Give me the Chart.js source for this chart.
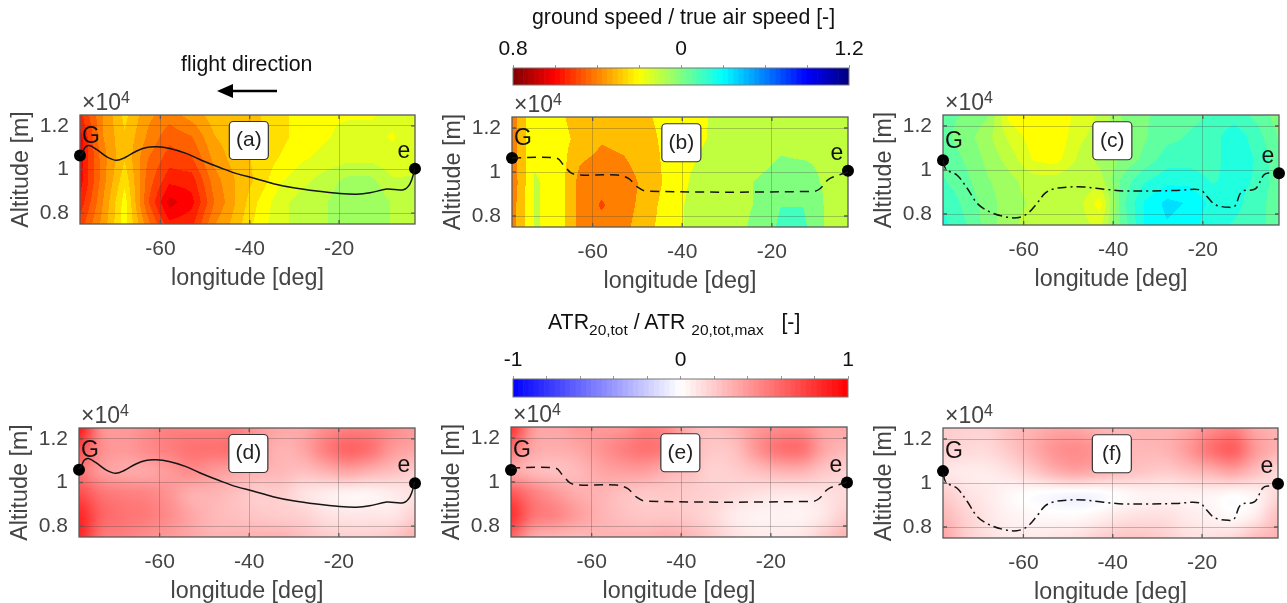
<!DOCTYPE html>
<html>
<head>
<meta charset="utf-8">
<script src="https://cdn.jsdelivr.net/npm/chart.js@4"></script>
<style>
html, body { margin: 0; padding: 0; background: #fff; overflow: hidden; }
#fig { position: relative; width: 1287px; height: 603px; overflow: hidden; font-family: "Liberation Sans", sans-serif; filter: blur(0.5px); }
#fig canvas { position: absolute; }
.txt { position: absolute; white-space: nowrap; color: #111; font-size: 21.3px; line-height: 24px; }
.txt sub { font-size: 15.5px; line-height: 0; vertical-align: -6px; }
</style>
</head>
<body>
<div id="fig">
    <div class="txt" style="left:532px;top:5px">ground speed / true air speed [-]</div>
    <div class="txt" style="left:181px;top:52px">flight direction</div>
    <div class="txt" style="left:548px;top:310px">ATR<sub>20,tot</sub> / ATR <sub>20,tot,max</sub> &nbsp;&nbsp;[-]</div>
    <svg style="position:absolute;left:210px;top:80px" width="75" height="22">
        <line x1="67" y1="11" x2="20" y2="11" stroke="#000" stroke-width="2.5"></line>
        <polygon points="7,11 23,4 23,18" fill="#000"></polygon>
    </svg>
</div>
<script>
// longitud y altitud de la malla de los campos
const gridLon = [-78, -73, -68, -63, -58, -53, -48, -43, -38, -33, -28, -23, -18, -13, -8, -3];
const gridAlt = [12500, 11500, 10500, 9500, 8500, 7500];

const xTickValues = [-60, -40, -20];
const yTickValues = [8000, 10000, 12000];

// ground speed / true air speed
const fieldA = [
    [.865, .905, .935, .91, .90, .912, .925, .927, .93, .94, .95, .955, .955, .955, .96, .965],
    [.85, .905, .93, .905, .885, .893, .918, .927, .93, .94, .95, .955, .96, .96, .955, .965],
    [.85, .90, .93, .895, .875, .88, .91, .925, .935, .945, .955, .96, .965, .965, .96, .965],
    [.85, .90, .94, .89, .86, .862, .90, .92, .935, .955, .965, .975, .985, .985, .97, .97],
    [.86, .905, .95, .885, .838, .852, .893, .92, .945, .965, .975, .98, .992, .992, .98, .97],
    [.875, .91, .95, .90, .86, .865, .905, .925, .95, .965, .975, .98, .992, .992, .98, .97]
];
const fieldB = [
    [.90, .96, .945, .925, .92, .925, .935, .945, .955, .965, .97, .97, .975, .975, .975, .975],
    [.90, .96, .95, .93, .915, .92, .93, .945, .957, .965, .97, .972, .98, .975, .975, .975],
    [.90, .96, .955, .915, .905, .91, .925, .945, .96, .97, .975, .98, .99, .988, .985, .975],
    [.895, .965, .955, .905, .895, .90, .92, .945, .965, .98, .98, .99, 1.0, .995, .985, .975],
    [.90, .965, .955, .905, .885, .90, .925, .95, .968, .975, .98, .99, 1.012, 1.012, .985, .975],
    [.90, .965, .955, .905, .895, .905, .93, .95, .968, .975, .98, .995, 1.018, 1.018, .985, .975]
];
const fieldC = [
    [1.01, 1.005, .995, .95, .945, .945, .96, .97, .995, 1.005, 1.01, 1.015, 1.02, 1.025, 1.015, 1.0],
    [1.01, 1.0, .985, .965, .95, .945, .965, .975, .99, 1.005, 1.015, 1.02, 1.025, 1.04, 1.025, 1.005],
    [1.015, 1.005, .99, .975, .955, .95, .97, .985, .995, 1.01, 1.025, 1.025, 1.025, 1.04, 1.03, 1.01],
    [1.02, 1.01, .995, .985, .975, .975, .98, .975, 1.01, 1.03, 1.04, 1.04, 1.03, 1.035, 1.03, 1.01],
    [1.03, 1.015, 1.0, .985, .98, .975, .975, .95, 1.015, 1.045, 1.06, 1.055, 1.04, 1.035, 1.025, 1.01],
    [1.035, 1.02, 1.0, .985, .975, .975, .975, .965, 1.01, 1.045, 1.055, 1.05, 1.035, 1.03, 1.025, 1.01]
];

// ATR20,tot / ATR20,tot,max
const fieldD = [
    [.9, .45, .4, .45, .5, .5, .5, .5, .4, .35, .35, .45, .5, .5, .45, .4],
    [.7, .45, .4, .45, .5, .55, .55, .55, .4, .3, .35, .5, .6, .55, .4, .35],
    [.55, .4, .35, .35, .4, .45, .4, .35, .3, .28, .25, .3, .35, .3, .25, .2],
    [.7, .55, .5, .48, .42, .32, .3, .25, .2, .2, .12, .08, .05, .05, .08, .12],
    [.85, .62, .55, .52, .45, .35, .28, .25, .22, .2, .18, .12, .1, .1, .1, .18],
    [.85, .55, .5, .45, .4, .35, .3, .3, .3, .3, .25, .2, .18, .18, .22, .3]
];
const fieldE = [
    [.8, .4, .35, .4, .4, .42, .5, .45, .3, .25, .3, .4, .45, .45, .35, .35],
    [.55, .35, .32, .35, .42, .5, .55, .5, .3, .22, .25, .42, .55, .55, .35, .28],
    [.35, .28, .25, .28, .35, .38, .38, .3, .25, .18, .2, .25, .3, .3, .22, .18],
    [.65, .5, .4, .32, .3, .25, .22, .22, .2, .18, .15, .12, .1, .1, .12, .15],
    [.8, .55, .48, .38, .3, .25, .22, .22, .2, .15, .08, .05, .05, .05, .1, .2],
    [.6, .35, .3, .28, .3, .3, .3, .32, .28, .2, .12, .08, .08, .1, .2, .3]
];
const fieldF = [
    [.2, .18, .18, .25, .3, .35, .35, .3, .28, .3, .3, .35, .45, .5, .35, .3],
    [.18, .15, .15, .22, .32, .42, .45, .4, .3, .28, .3, .4, .55, .62, .4, .3],
    [.1, .08, .08, .12, .2, .3, .35, .3, .25, .22, .2, .25, .3, .35, .25, .15],
    [.2, .12, .08, .03, 0, -.02, -.03, -.02, .02, .05, .05, .05, .05, .02, .05, .15],
    [.28, .18, .1, .05, .03, .02, .02, .05, .1, .12, .12, .08, .05, .02, .08, .25],
    [.35, .2, .12, .08, .08, .1, .12, .18, .22, .22, .18, .12, .12, .15, .25, .3]
];

// trayectorias de vuelo
const pathSolidLon = [-78, -77.5, -76.9, -75.9, -74.3, -72, -69.8, -67.9, -65.3, -63.1, -60.8, -57.9, -54.1, -50.4, -46.7, -42.9, -39.2, -34.7, -30.2, -25, -19.8, -16.1, -13.1, -9.3, -5.6, -4.1, -3];
const pathSolidAlt = [10640, 10730, 11010, 11100, 10920, 10580, 10420, 10550, 10850, 11010, 11040, 10960, 10730, 10390, 10090, 9810, 9610, 9350, 9160, 9010, 8900, 8870, 8930, 9100, 9070, 9350, 10040];
const pathDashLon = [-78, -68, -66.5, -64.3, -54.6, -52, -50.1, -47.9, -10.7, -9.2, -7.3, -5, -3];
const pathDashAlt = [10640, 10630, 10320, 9910, 9860, 9710, 9330, 9130, 9120, 9250, 9670, 9860, 10000];
const pathDotLon = [-78, -77.3, -74.9, -72.6, -70.4, -67.8, -64.5, -61.5, -59.2, -57, -55.2, -53.3, -50.3, -46.6, -42.1, -37.7, -31.7, -25.8, -20.6, -19.1, -17.2, -13.9, -12.8, -11.3, -8.3, -6.4, -5.3, -3];
const pathDotAlt = [10440, 10030, 9770, 9170, 8490, 8120, 7890, 7830, 8010, 8490, 8950, 9140, 9220, 9230, 9130, 9050, 9050, 9070, 9100, 8800, 8420, 8300, 8370, 9020, 9140, 9770, 9860, 9850];

const colorbarSpeedLabels = ['0.8', '', '', '', '0', '', '', '', '1.2'];
const colorbarAtrLabels = ['-1', '', '', '', '', '0', '', '', '', '', '1'];

function clamp01(v) { return Math.max(0, Math.min(1, v)); }

// jet invertido: rojo oscuro -> amarillo -> cian -> azul oscuro
function speedColor(r) {
    const u = 1 - (r - 0.8) / 0.4;
    return [
        clamp01(Math.min(4 * u - 1.5, -4 * u + 4.5)) * 255,
        clamp01(Math.min(4 * u - 0.5, -4 * u + 3.5)) * 255,
        clamp01(Math.min(4 * u + 0.5, -4 * u + 2.5)) * 255
    ];
}
function atrColor(v) {
    v = Math.max(-1, Math.min(1, v));
    if (v >= 0) return [255, 255 * (1 - v), 255 * (1 - v)];
    return [255 * (1 + v), 255 * (1 + v), 255];
}

function cubic(a, b, c, d, t) {
    return b + 0.5 * t * (c - a + t * (2 * a - 5 * b + 4 * c - d + t * (3 * (b - c) + d - a)));
}
function sampleLinear(grid, fx, fy) {
    const i = Math.min(Math.floor(fx), gridLon.length - 2), j = Math.min(Math.floor(fy), gridAlt.length - 2);
    const tx = fx - i, ty = fy - j;
    const top = grid[j][i] * (1 - tx) + grid[j][i + 1] * tx;
    const bot = grid[j + 1][i] * (1 - tx) + grid[j + 1][i + 1] * tx;
    return top * (1 - ty) + bot * ty;
}
function sampleCubic(grid, fx, fy) {
    const i = Math.min(Math.floor(fx), gridLon.length - 2), j = Math.min(Math.floor(fy), gridAlt.length - 2);
    const tx = fx - i, ty = fy - j;
    const rows = [];
    for (let m = -1; m <= 2; m++) {
        const row = grid[Math.max(0, Math.min(gridAlt.length - 1, j + m))];
        const at = k => row[Math.max(0, Math.min(gridLon.length - 1, k))];
        rows.push(cubic(at(i - 1), at(i), at(i + 1), at(i + 2), tx));
    }
    return cubic(rows[0], rows[1], rows[2], rows[3], ty);
}
function clampGrid(v, max) { return Math.max(0, Math.min(max, v)); }

// pinta el campo de color leyendo cada pixel con las escalas del chart
const fieldPlugin = {
    id: 'fieldBg',
    beforeDraw(chart, args, opts) {
        const area = chart.chartArea, sx = chart.scales.x, sy = chart.scales.y;
        const w = Math.round(area.width), h = Math.round(area.height);
        const off = document.createElement('canvas');
        off.width = w; off.height = h;
        const octx = off.getContext('2d');
        const img = octx.createImageData(w, h);
        const lonStep = gridLon[1] - gridLon[0], altStep = gridAlt[0] - gridAlt[1];
        let p = 0;
        for (let py = 0; py < h; py++) {
            const alt = sy.getValueForPixel(area.top + py + 0.5);
            const fy = clampGrid((gridAlt[0] - alt) / altStep, gridAlt.length - 1);
            for (let px = 0; px < w; px++) {
                const lon = sx.getValueForPixel(area.left + px + 0.5);
                const fx = clampGrid((lon - gridLon[0]) / lonStep, gridLon.length - 1);
                let c;
                if (opts.bandStep) {
                    // contourf con niveles fijos
                    const r = sampleLinear(opts.grid, fx, fy);
                    c = speedColor(0.85 + Math.round((r - 0.85) / opts.bandStep) * opts.bandStep);
                } else {
                    c = atrColor(sampleCubic(opts.grid, fx, fy));
                }
                img.data[p++] = c[0]; img.data[p++] = c[1]; img.data[p++] = c[2]; img.data[p++] = 255;
            }
        }
        octx.putImageData(img, 0, 0);
        chart.ctx.drawImage(off, area.left, area.top);
    },
    beforeDatasetsDraw(chart) {
        // marco y ticks hacia dentro
        const ctx = chart.ctx, a = chart.chartArea;
        ctx.save();
        ctx.strokeStyle = '#5a5a5a';
        ctx.lineWidth = 1.3;
        ctx.strokeRect(a.left, a.top, a.width, a.height);
        ctx.beginPath();
        xTickValues.forEach(v => {
            const x = chart.scales.x.getPixelForValue(v);
            ctx.moveTo(x, a.top); ctx.lineTo(x, a.top + 4);
            ctx.moveTo(x, a.bottom); ctx.lineTo(x, a.bottom - 4);
        });
        yTickValues.forEach(v => {
            const y = chart.scales.y.getPixelForValue(v);
            ctx.moveTo(a.left, y); ctx.lineTo(a.left + 4, y);
            ctx.moveTo(a.right, y); ctx.lineTo(a.right - 4, y);
        });
        ctx.stroke();
        ctx.restore();
    },
    afterDraw(chart, args, opts) {
        const ctx = chart.ctx, a = chart.chartArea;
        ctx.save();
        ctx.fillStyle = '#444';
        ctx.textAlign = 'left';
        ctx.textBaseline = 'alphabetic';
        ctx.font = '23px "Liberation Sans"';
        ctx.fillText('×10', a.left + 2, a.top - 5);
        ctx.font = '16px "Liberation Sans"';
        ctx.fillText('4', a.left + 41, a.top - 12);

        // etiqueta del panel
        const bx = chart.scales.x.getPixelForValue(-40.2), by = chart.scales.y.getPixelForValue(11330);
        ctx.beginPath();
        ctx.roundRect(bx - 19.5, by - 19, 39, 38, 4);
        ctx.fillStyle = '#fff';
        ctx.fill();
        ctx.strokeStyle = '#333';
        ctx.lineWidth = 1.2;
        ctx.stroke();
        ctx.fillStyle = '#222';
        ctx.textAlign = 'center';
        ctx.textBaseline = 'middle';
        ctx.font = '21px "Liberation Sans"';
        ctx.fillText(opts.label, bx, by);

        // G y e junto a los puntos extremos
        const pts = chart.getDatasetMeta(1).data;
        ctx.fillStyle = '#111';
        ctx.font = '23px "Liberation Sans"';
        ctx.fillText('G', pts[0].x + 11, pts[0].y - 19);
        ctx.fillText('e', pts[1].x - 11, pts[1].y - 17);
        ctx.restore();
    }
};

const tickFont = { family: '"Liberation Sans"', size: 21 };
const titleFont = { family: '"Liberation Sans"', size: 23.3 };
const gridLine = { color: 'rgba(70,70,70,0.3)', lineWidth: 1, drawTicks: false };

function addCanvas(left, top, w, h) {
    const c = document.createElement('canvas');
    c.width = w; c.height = h;
    c.style.left = left + 'px';
    c.style.top = top + 'px';
    document.getElementById('fig').appendChild(c);
    return c;
}

function makePanel(box, grid, bandStep, label, lon, alt, dash, ends) {
    const mLeft = 72, mTop = 32, mRight = 16, mBottom = 71;
    const canvas = addCanvas(box[0] - mLeft, box[1] - mTop, box[2] + mLeft + mRight, box[3] + mTop + mBottom);
    new Chart(canvas, {
        type: 'scatter',
        data: {
            datasets: [
                {
                    data: lon.map((x, i) => ({ x: x, y: alt[i] })),
                    showLine: true, borderColor: '#151515', borderWidth: 1.5,
                    borderDash: dash, pointRadius: 0, tension: 0.35
                },
                {
                    data: ends, showLine: false, clip: false,
                    pointRadius: 6, backgroundColor: '#000', borderWidth: 0
                }
            ]
        },
        options: {
            responsive: false,
            animation: false,
            layout: { padding: { top: mTop, right: mRight, left: 0, bottom: 0 } },
            plugins: { legend: { display: false }, tooltip: { enabled: false }, fieldBg: { grid: grid, bandStep: bandStep, label: label } },
            scales: {
                x: {
                    type: 'linear', min: -78, max: -3,
                    afterBuildTicks: s => { s.ticks = xTickValues.map(v => ({ value: v })); },
                    afterFit: s => { s.height = mBottom; },
                    grid: gridLine, border: { display: false },
                    ticks: { font: tickFont, color: '#444', padding: 13, maxRotation: 0 },
                    title: { display: true, text: 'longitude [deg]', font: titleFont, color: '#444', padding: { top: 0, bottom: 2 } }
                },
                y: {
                    type: 'linear', min: 7500, max: 12500,
                    afterBuildTicks: s => { s.ticks = yTickValues.map(v => ({ value: v })); },
                    afterFit: s => { s.width = mLeft; },
                    grid: gridLine, border: { display: false },
                    ticks: { font: tickFont, color: '#444', padding: 11, callback: v => String(v / 10000) },
                    title: { display: true, text: 'Altitude [m]', font: titleFont, color: '#444', padding: { top: 0, bottom: 0 } }
                }
            }
        },
        plugins: [fieldPlugin]
    });
}

function makeColorbar(box, tickLabels, cells) {
    const mLeft = 30, mRight = 30, mTop = 36;
    const canvas = addCanvas(box[0] - mLeft, box[1] - mTop, box[2] + mLeft + mRight, box[3] + mTop + 2);
    const tickVals = tickLabels.map((l, i) => i / (tickLabels.length - 1));
    new Chart(canvas, {
        type: 'bar',
        data: {
            labels: cells.map((c, i) => i),
            datasets: [{
                data: cells.map(() => 1),
                backgroundColor: cells,
                barPercentage: 1, categoryPercentage: 1, borderWidth: 0
            }]
        },
        options: {
            responsive: false,
            animation: false,
            layout: { padding: { left: mLeft, right: mRight, top: 0, bottom: 2 } },
            plugins: { legend: { display: false }, tooltip: { enabled: false } },
            scales: {
                x: { display: false },
                y: { display: false, min: 0, max: 1 },
                xTop: {
                    axis: 'x', type: 'linear', position: 'top', min: 0, max: 1, offset: false,
                    afterBuildTicks: s => { s.ticks = tickVals.map(v => ({ value: v })); },
                    afterFit: s => { s.height = mTop; },
                    grid: { offset: false, drawOnChartArea: false, drawTicks: true, tickLength: 3, color: '#999' },
                    border: { display: false },
                    ticks: {
                        font: tickFont, color: '#111', padding: 3, maxRotation: 0, autoSkip: false,
                        callback: (v, i) => tickLabels[i]
                    }
                }
            }
        },
        plugins: [{
            id: 'cbFrame',
            afterDraw(chart) {
                const a = chart.chartArea;
                chart.ctx.strokeStyle = '#777';
                chart.ctx.lineWidth = 1;
                chart.ctx.strokeRect(a.left, a.top, a.width, a.height);
            }
        }]
    });
}

function rgbStr(c) { return 'rgb(' + c.map(Math.round).join(',') + ')'; }
const speedCells = [], atrCells = [];
for (let i = 0; i < 64; i++) {
    speedCells.push(rgbStr(speedColor(0.8 + 0.4 * (i + 0.5) / 64)));
    atrCells.push(rgbStr(atrColor(-1 + 2 * (i + 0.5) / 64)));
}

makeColorbar([513, 68, 336, 17], colorbarSpeedLabels, speedCells);
makeColorbar([513, 379, 335, 18], colorbarAtrLabels, atrCells);

const dashed = [9, 6], dashDot = [9, 4, 2, 4];
makePanel([80, 115, 335, 109], fieldA, 0.0125, '(a)', pathSolidLon, pathSolidAlt, [], [{ x: -78, y: 10640 }, { x: -3, y: 10040 }]);
makePanel([512, 117, 336, 110], fieldB, 0.025, '(b)', pathDashLon, pathDashAlt, dashed, [{ x: -78, y: 10640 }, { x: -3, y: 10060 }]);
makePanel([943, 115, 336, 110], fieldC, 0.0125, '(c)', pathDotLon, pathDotAlt, dashDot, [{ x: -78, y: 10440 }, { x: -3, y: 9850 }]);
makePanel([79, 428, 336, 109], fieldD, 0, '(d)', pathSolidLon, pathSolidAlt, [], [{ x: -78, y: 10580 }, { x: -3, y: 9970 }]);
makePanel([511, 427, 336, 110], fieldE, 0, '(e)', pathDashLon, pathDashAlt, dashed, [{ x: -78, y: 10550 }, { x: -3, y: 9980 }]);
makePanel([943, 428, 335, 110], fieldF, 0, '(f)', pathDotLon, pathDotAlt, dashDot, [{ x: -78, y: 10540 }, { x: -3, y: 9970 }]);
</script>
</body>
</html>
